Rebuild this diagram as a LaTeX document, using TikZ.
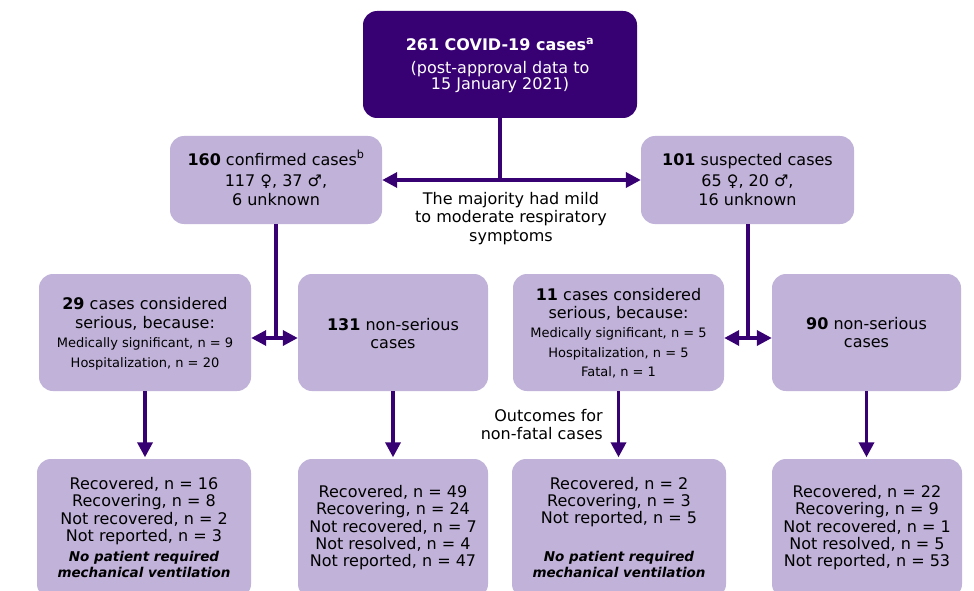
\documentclass[tikz,border=0pt]{standalone}
\usepackage{fontspec}
\setmainfont{DejaVu Sans}
\usetikzlibrary{arrows.meta}
\definecolor{dpurple}{RGB}{55,0,115}
\definecolor{lpurple}{RGB}{192,178,216}
\newcommand\smtext{\fontsize{13}{15}\selectfont}
\newcommand\bitext{\fontsize{13.5}{15}\selectfont\bfseries\itshape}
\newcommand\tlines[4][]{\foreach \lty/\ltx [count=\i] in {#4}{\node[txt,#1] (#2-\i) at (#3,\lty) {\ltx};}}
\tikzset{
  box/.style={fill=lpurple, rounded corners=14pt, inner sep=0pt},
  topbox/.style={fill=dpurple, rounded corners=14pt, inner sep=0pt},
  txt/.style={anchor=base, inner sep=0pt, font=\fontsize{16}{19}\selectfont},
  conn/.style={draw=dpurple, line width=3.5pt},
  arr/.style={conn, -{Triangle[length=15pt,width=15pt]}},
  darr/.style={conn, {Triangle[length=15pt,width=15pt]}-{Triangle[length=15pt,width=15pt]}},
}
\begin{document}
\begin{tikzpicture}[x=1pt,y=-1pt]
\clip (0,0) rectangle (974,591);
\fill[white] (0,0) rectangle (974,591);
% boxes
\node[topbox, minimum width=274pt, minimum height=107pt] (top) at (500,64.5) {};
\node[box, minimum width=212pt, minimum height=88pt] (conf) at (276,180) {};
\node[box, minimum width=213pt, minimum height=88pt] (susp) at (747.5,180) {};
\node[box, minimum width=212pt, minimum height=117pt] (ser1) at (145,332.5) {};
\node[box, minimum width=190pt, minimum height=117pt] (non1) at (393,332.5) {};
\node[box, minimum width=211pt, minimum height=117pt] (ser2) at (618.5,332.5) {};
\node[box, minimum width=189pt, minimum height=117pt] (non2) at (866.5,332.5) {};
\node[box, minimum width=214pt, minimum height=139pt] (out1) at (144,528.5) {};
\node[box, minimum width=190pt, minimum height=139pt] (out2) at (393,528.5) {};
\node[box, minimum width=214pt, minimum height=139pt] (out3) at (619,528.5) {};
\node[box, minimum width=190pt, minimum height=139pt] (out4) at (867,528.5) {};
% connectors
\draw[conn] (top.south) -- (top.south |- conf.east);
\draw[darr] (conf.east) -- (susp.west);
\coordinate (j1) at (276,338);
\coordinate (j2) at (748,338);
\draw[conn] (conf.south) -- (j1);
\draw[darr] (ser1.east |- j1) -- (non1.west |- j1);
\draw[conn] (susp.south -| j2) -- (j2);
\draw[darr] (ser2.east |- j2) -- (non2.west |- j2);
\draw[arr, shorten >=1.5pt] (ser1.south) -- (ser1.south |- out1.north);
\draw[arr, shorten >=1.5pt] (non1.south) -- (non1.south |- out2.north);
\draw[arr, shorten >=1.5pt] (ser2.south) -- (ser2.south |- out3.north);
\draw[arr, shorten >=1.5pt] (non2.south) -- (non2.south |- out4.north);
% texts
\tlines[text=white]{tt}{500}{51/{\textbf{261 COVID-19 cases\textsuperscript{a}}}, 74/{(post-approval data to}, 90/{15 January 2021)}}
\tlines{tc}{276}{165/{\textbf{160} confirmed cases\textsuperscript{b}}, 186/{117 ♀, 37 ♂,}, 205/{6 unknown}}
\tlines{ts}{747.5}{165/{\textbf{101} suspected cases}, 186/{65 ♀, 20 ♂,}, 205/{16 unknown}}
\tlines{tm}{511}{204/{The majority had mild}, 222.5/{to moderate respiratory}, 241/{symptoms}}
\tlines{ta}{145}{309/{\textbf{29} cases considered}, 328/{serious, because:}, 347/{\smtext Medically significant, n = 9}, 367/{\smtext Hospitalization, n = 20}}
\tlines{tb}{393}{330/{\textbf{131} non-serious}, 348/{cases}}
\tlines{tc2}{618.5}{300/{\textbf{11} cases considered}, 318/{serious, because:}, 337/{\smtext Medically significant, n = 5}, 357.5/{\smtext Hospitalization, n = 5}, 376.5/{\smtext Fatal, n = 1}}
\tlines{td}{866.5}{329.5/{\textbf{90} non-serious}, 347.5/{cases}}
\tlines{o1}{144}{489/{Recovered, n = 16}, 506.5/{Recovering, n = 8}, 524/{Not recovered, n = 2}, 541.5/{Not reported, n = 3}, 561/{\bitext No patient required}, 577/{\bitext mechanical ventilation}}
\tlines{o2}{393}{497/{Recovered, n = 49}, 514.5/{Recovering, n = 24}, 532/{Not recovered, n = 7}, 549/{Not resolved, n = 4}, 566/{Not reported, n = 47}}
\tlines{o3}{619}{489/{Recovered, n = 2}, 506/{Recovering, n = 3}, 523/{Not reported, n = 5}, 561/{\bitext No patient required}, 577/{\bitext mechanical ventilation}}
\tlines{o4}{867}{497/{Recovered, n = 22}, 514.5/{Recovering, n = 9}, 532/{Not recovered, n = 1}, 549/{Not resolved, n = 5}, 566/{Not reported, n = 53}}
\node[anchor=base east, inner sep=0pt, font=\fontsize{16}{19}\selectfont] (of1) at (603,421.5) {Outcomes for};
\node[anchor=base east, inner sep=0pt, font=\fontsize{16}{19}\selectfont] (of2) at (603,439) {non-fatal cases};
\end{tikzpicture}
\end{document}
